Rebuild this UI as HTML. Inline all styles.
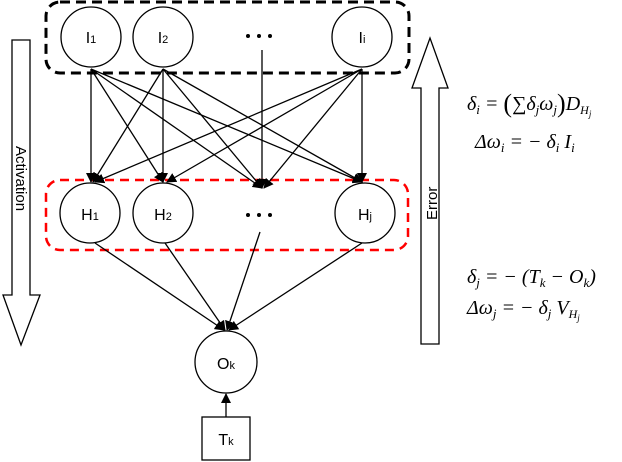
<!DOCTYPE html>
<html><head><meta charset="utf-8"><style>
body{margin:0;background:#fff;}
svg{display:block;font-family:"Liberation Sans",sans-serif;}
.m{font-family:"Liberation Serif",serif;font-style:italic;font-size:20px;}
</style></head><body>
<svg width="622" height="462" viewBox="0 0 622 462" xmlns="http://www.w3.org/2000/svg">
<defs>
<marker id="a" markerWidth="10" markerHeight="10" refX="9" refY="5" orient="auto" markerUnits="userSpaceOnUse"><path d="M0,0 L10,5 L0,10 z" fill="#000"/></marker>
</defs>
<rect x="46" y="2" width="363" height="71" rx="14" fill="none" stroke="#000" stroke-width="3" stroke-dasharray="10,6"/>
<rect x="46" y="180" width="362" height="70" rx="14" fill="none" stroke="#f00" stroke-width="2.5" stroke-dasharray="9,6"/>
<g stroke="#000" stroke-width="1.3" fill="none" marker-end="url(#a)">
<line x1="91" y1="69" x2="91" y2="182"/>
<line x1="91" y1="69" x2="163" y2="182"/>
<line x1="91" y1="69" x2="262" y2="188"/>
<line x1="91" y1="69" x2="362" y2="182"/>
<line x1="163" y1="69" x2="93" y2="182"/>
<line x1="163" y1="69" x2="163" y2="182"/>
<line x1="163" y1="69" x2="262" y2="188"/>
<line x1="163" y1="69" x2="362" y2="182"/>
<line x1="262" y1="50" x2="262" y2="188"/>
<line x1="362" y1="69" x2="95" y2="182"/>
<line x1="362" y1="69" x2="167" y2="182"/>
<line x1="362" y1="69" x2="264" y2="188"/>
<line x1="362" y1="69" x2="362" y2="182"/>
<line x1="95" y1="243" x2="224" y2="330"/>
<line x1="165" y1="243" x2="225" y2="330"/>
<line x1="260" y1="232" x2="227" y2="330"/>
<line x1="362" y1="243" x2="229" y2="330"/>
<line x1="226" y1="417" x2="226" y2="394"/>
</g>
<g fill="#fff" stroke="#000" stroke-width="1.3">
<circle cx="91" cy="37" r="30"/><circle cx="163" cy="37" r="30"/><circle cx="362" cy="37" r="30"/>
<circle cx="90" cy="213" r="30"/><circle cx="163" cy="213" r="30"/><circle cx="365" cy="213" r="30"/>
<circle cx="226" cy="362" r="31"/>
<rect x="202" y="417" width="48" height="43"/>
<path d="M12,40 H30 V295 H40 L21,345 L3,295 H12 Z"/>
<path d="M421,344 V88 H412 L430,38 L448,88 H439 V344 Z"/>
</g>
<g font-size="16" fill="#000" text-anchor="middle">
<text x="91" y="43">I<tspan font-size="11">1</tspan></text>
<text x="163" y="43">I<tspan font-size="11">2</tspan></text>
<text x="362" y="43">I<tspan font-size="11">i</tspan></text>
<text x="90" y="220">H<tspan font-size="11">1</tspan></text>
<text x="163" y="220">H<tspan font-size="11">2</tspan></text>
<text x="365" y="220">H<tspan font-size="11">j</tspan></text>
<text x="226" y="369">O<tspan font-size="11">k</tspan></text>
<text x="226" y="445">T<tspan font-size="11">k</tspan></text>
</g>
<g fill="#000"><circle cx="248" cy="36" r="2"/><circle cx="259" cy="36" r="2"/><circle cx="270" cy="36" r="2"/>
<circle cx="248" cy="215" r="2"/><circle cx="259" cy="215" r="2"/><circle cx="270" cy="215" r="2"/></g>
<text transform="translate(16,146) rotate(90)" font-size="15">Activation</text>
<text transform="translate(437,220) rotate(-90)" font-size="15">Error</text>
<g class="m" fill="#000">
<text x="467" y="110">δ<tspan font-size="13" dy="4">i</tspan><tspan dy="-4"> = </tspan><tspan font-style="normal" font-size="26" dy="2">(</tspan><tspan font-style="normal" dy="-2">∑</tspan>δ<tspan font-size="13" dy="4">j</tspan><tspan dy="-4">ω</tspan><tspan font-size="13" dy="4">j</tspan><tspan dy="-2" font-style="normal" font-size="26">)</tspan><tspan dy="-2">D</tspan><tspan font-size="12" dy="4">H</tspan><tspan font-size="9" dy="3">j</tspan></text>
<text x="475" y="148">Δω<tspan font-size="13" dy="4">i</tspan><tspan dy="-4"> = − δ</tspan><tspan font-size="13" dy="4">i</tspan><tspan dy="-4"> I</tspan><tspan font-size="13" dy="4">i</tspan></text>
<text x="467" y="283">δ<tspan font-size="13" dy="4">j</tspan><tspan dy="-4"> = − (T</tspan><tspan font-size="13" dy="4">k</tspan><tspan dy="-4"> − O</tspan><tspan font-size="13" dy="4">k</tspan><tspan dy="-4">)</tspan></text>
<text x="467" y="314">Δω<tspan font-size="13" dy="4">j</tspan><tspan dy="-4"> = − δ</tspan><tspan font-size="13" dy="4">j</tspan><tspan dy="-4"> V</tspan><tspan font-size="12" dy="4">H</tspan><tspan font-size="9" dy="3">j</tspan></text>
</g>
</svg>
</body></html>
